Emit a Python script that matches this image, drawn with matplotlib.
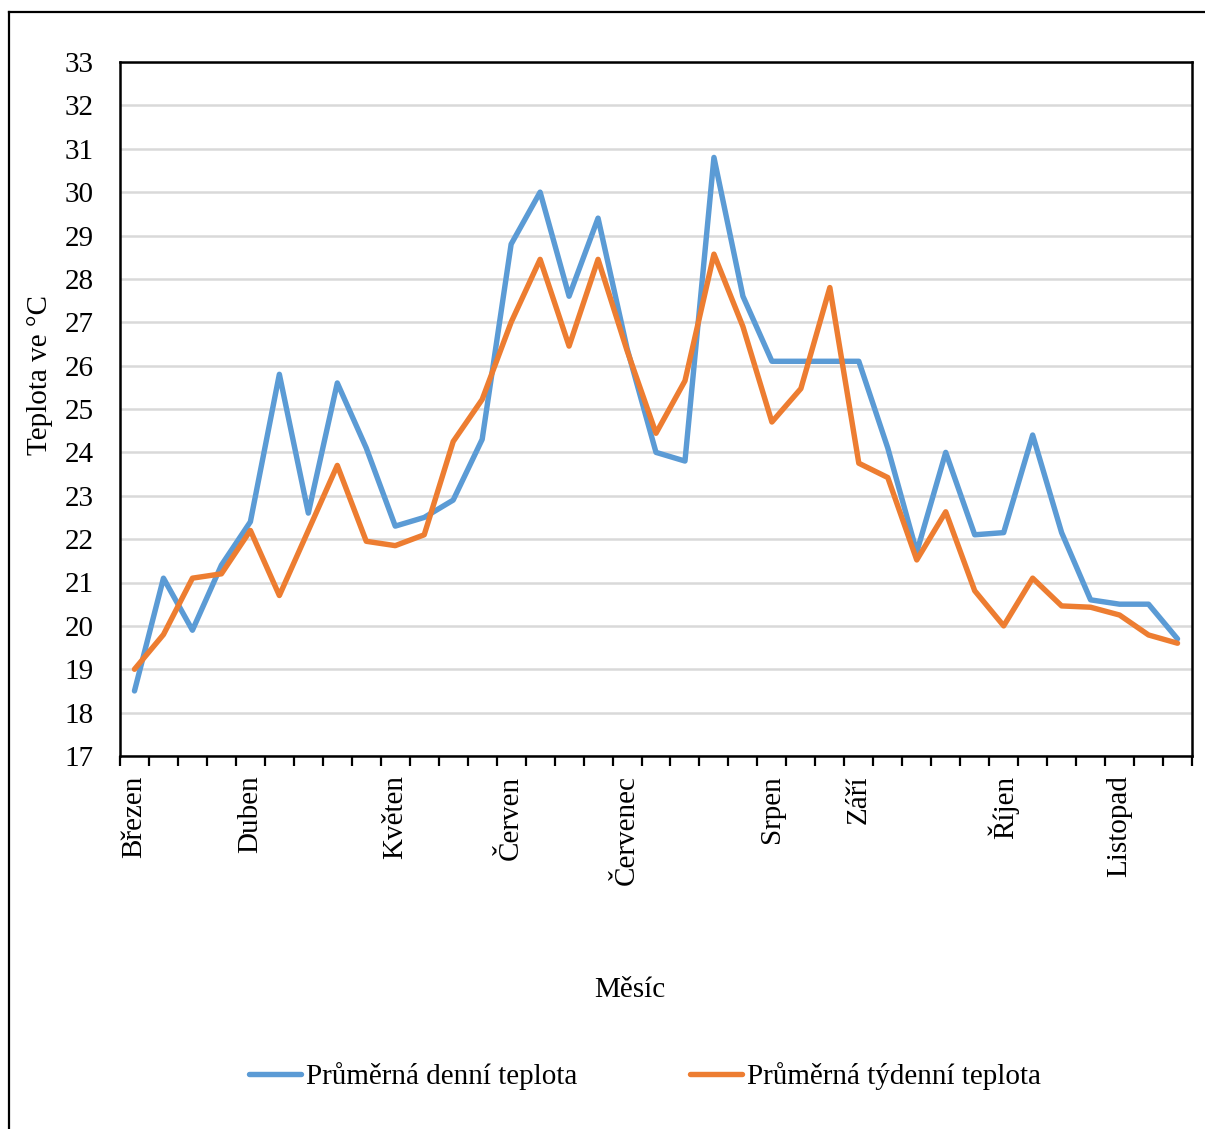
import matplotlib
matplotlib.use("Agg")
import matplotlib.pyplot as plt
from matplotlib.lines import Line2D
import numpy as np

# ---- data ----
month_labels = ["Březen", "", "", "", "Duben", "", "", "", "", "Květen", "", "", "",
                "Červen", "", "", "", "Červenec", "", "", "", "", "Srpen", "", "",
                "Září", "", "", "", "", "Říjen", "", "", "", "Listopad", "", ""]

daily = [18.5, 21.1, 19.9, 21.4, 22.4, 25.8, 22.6, 25.6, 24.1, 22.3, 22.5, 22.9, 24.3,
         28.8, 30.0, 27.6, 29.4, 26.4, 24.0, 23.8, 30.8, 27.6, 26.1, 26.1, 26.1,
         26.1, 24.1, 21.7, 24.0, 22.1, 22.15, 24.4, 22.15, 20.6, 20.5, 20.5, 19.7]

weekly = [19.0, 19.8, 21.1, 21.2, 22.2, 20.7, 22.2, 23.7, 21.95, 21.85, 22.1, 24.25, 25.22,
          27.0, 28.45, 26.45, 28.45, 26.35, 24.44, 25.65, 28.57, 26.9, 24.7, 25.47, 27.8,
          23.75, 23.42, 21.52, 22.63, 20.81, 20.0, 21.1, 20.46, 20.43, 20.25, 19.79, 19.6]

series_names = ["Průměrná denní teplota", "Průměrná týdenní teplota"]
y_ticks = list(range(17, 34))

# ---- figure ----
W, H = 1205, 1129
fig = plt.figure(figsize=(W / 100, H / 100), dpi=100)
plt.rcParams['font.family'] = ['Liberation Serif', 'DejaVu Serif']

ax = fig.add_axes([120 / W, (H - 756) / H, 1072 / W, 694 / H])

x = np.arange(len(daily))
l1, = ax.plot(x, daily, color="#5B9BD5", lw=3.9, solid_joinstyle="round",
              solid_capstyle="round", zorder=3)
l2, = ax.plot(x, weekly, color="#ED7D31", lw=3.9, solid_joinstyle="round",
              solid_capstyle="round", zorder=4)

ax.set_xlim(-0.5, len(daily) - 0.5)
ax.set_ylim(17, 33)
ax.set_yticks(y_ticks)
ax.set_yticklabels([str(v) for v in y_ticks], fontsize=21)
ax.tick_params(axis="y", length=0, pad=19)
ax.grid(axis="y", color="#d9d9d9", lw=1.8, zorder=0)
ax.set_axisbelow(True)

# category boundaries as major ticks, labels at centers as minor ticks
ax.set_xticks(np.arange(-0.5, len(daily), 1.0))
ax.set_xticklabels([])
ax.tick_params(axis="x", which="major", length=7, width=1.6, direction="out", color="black")
ax.set_xticks(x, minor=True)
ax.set_xticklabels(month_labels, minor=True, rotation=90, fontsize=21, va="top", ha="center")
ax.tick_params(axis="x", which="minor", length=0, pad=14)

for s in ax.spines.values():
    s.set_color("black")
    s.set_linewidth(1.8)

fig.text(40 / W, 1 - 375 / H, "Teplota ve °C", rotation=90, fontsize=21,
         ha="center", va="center")
fig.text(630 / W, 1 - 990 / H, "Měsíc", fontsize=21, ha="center", va="center")

fig.legend([l1, l2], series_names, loc="center", bbox_to_anchor=(645 / W, 1 - 1076 / H),
           ncol=2, frameon=False, fontsize=21, handlelength=1.78, handletextpad=0.17,
           columnspacing=3.84)

# outer chart border (cropped: only left and top visible)
fig.add_artist(Line2D([8.5 / W, 8.5 / W], [0, 1 - 12 / H], transform=fig.transFigure,
                      color="black", lw=1.6))
fig.add_artist(Line2D([8.5 / W, 1], [1 - 12 / H, 1 - 12 / H], transform=fig.transFigure,
                      color="black", lw=1.6))

fig.savefig("out.png", dpi=100, facecolor="white")
